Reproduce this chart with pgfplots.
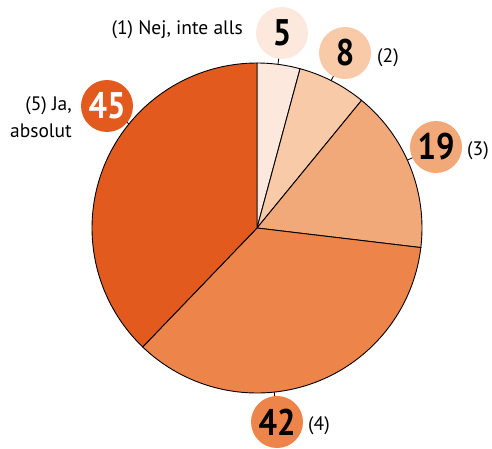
\documentclass[border=0pt]{standalone}
\usepackage{pgfplots}
\pgfplotsset{compat=1.18}
\usepackage{fontspec}
\setmainfont{PT Sans}
\definecolor{c1}{HTML}{FCE8DC}
\definecolor{c2}{HTML}{F8CAA8}
\definecolor{c3}{HTML}{F2A97A}
\definecolor{c4}{HTML}{ED844A}
\definecolor{c5}{HTML}{E35A1E}
\def\va{5}\def\vb{8}\def\vc{19}\def\vd{42}\def\ve{45}
\pgfmathsetmacro\tot{\va+\vb+\vc+\vd+\ve}
\pgfmathsetmacro\aA{90}
\pgfmathsetmacro\aB{\aA-360*\va/\tot}
\pgfmathsetmacro\aC{\aB-360*\vb/\tot}
\pgfmathsetmacro\aD{\aC-360*\vc/\tot}
\pgfmathsetmacro\aE{\aD-360*\vd/\tot}
\pgfmathsetmacro\aF{\aE-360*\ve/\tot}
\newcommand\num[1]{\scalebox{0.88}[1]{\fontsize{37}{37}\selectfont\bfseries #1}}
\newcommand\tick[1]{\draw[line width=0.8pt] (axis cs:{257+165*cos(#1)},{219+165*sin(#1)}) -- (axis cs:{257+172*cos(#1)},{219+172*sin(#1)});}
\begin{document}
\begin{tikzpicture}
\begin{axis}[x=1pt,y=1pt,xmin=0,xmax=492,ymin=0,ymax=447,hide axis,clip=false,scale only axis]
\path (axis cs:0,0) (axis cs:492,447);
\addplot[fill=c1,draw=black,line width=0.9pt,domain=\aB:\aA,samples=20,variable=\t] ({257+165*cos(\t)},{219+165*sin(\t)}) -- (axis cs:257,219) -- cycle;
\addplot[fill=c2,draw=black,line width=0.9pt,domain=\aC:\aB,samples=25,variable=\t] ({257+165*cos(\t)},{219+165*sin(\t)}) -- (axis cs:257,219) -- cycle;
\addplot[fill=c3,draw=black,line width=0.9pt,domain=\aD:\aC,samples=40,variable=\t] ({257+165*cos(\t)},{219+165*sin(\t)}) -- (axis cs:257,219) -- cycle;
\addplot[fill=c4,draw=black,line width=0.9pt,domain=\aE:\aD,samples=80,variable=\t] ({257+165*cos(\t)},{219+165*sin(\t)}) -- (axis cs:257,219) -- cycle;
\addplot[fill=c5,draw=black,line width=0.9pt,domain=\aF:\aE,samples=80,variable=\t] ({257+165*cos(\t)},{219+165*sin(\t)}) -- (axis cs:257,219) -- cycle;
\tick{82.7}
\tick{63.3}
\tick{24.3}
\tick{-84}
\tick{140.9}
\tikzset{bub/.style={circle,inner sep=0pt,minimum size=52pt,text=black}}
\node[bub,fill=c1] at (axis cs:282,414) {\num{5}};
\node[bub,fill=c2] at (axis cs:345,394) {\num{8}};
\node[bub,fill=c3] at (axis cs:436,300) {\num{19}};
\node[bub,fill=c4] at (axis cs:277,25) {\num{42}};
\node[bub,fill=c5,text=white] at (axis cs:107,341) {\num{45}};
\tikzset{lab/.style={font=\fontsize{19.5}{27}\selectfont,inner sep=0pt}}
\node[lab,anchor=east] at (axis cs:243,417) {(1) Nej, inte alls};
\node[lab,anchor=west] at (axis cs:377,389) {(2)};
\node[lab,anchor=west] at (axis cs:467,296) {(3)};
\node[lab,anchor=west] at (axis cs:308,21) {(4)};
\node[lab,anchor=east,align=right] at (axis cs:72,330) {(5) Ja,\\absolut};
\end{axis}
\end{tikzpicture}
\end{document}
